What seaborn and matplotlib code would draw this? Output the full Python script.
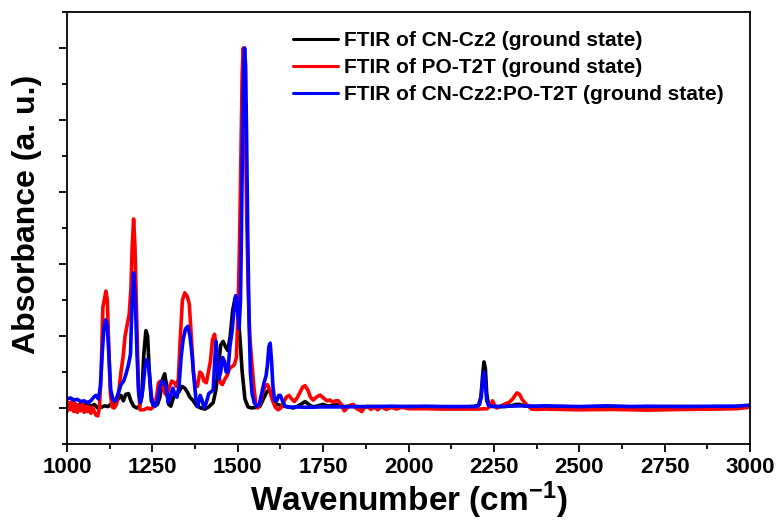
import numpy as np
import pandas as pd
import matplotlib
matplotlib.use("Agg")
import matplotlib.pyplot as plt
import seaborn as sns
from matplotlib.ticker import MultipleLocator

# ---- data ----
cz2_wn = [1000, 1010, 1020, 1030, 1040, 1050, 1060, 1070, 1080, 1090, 1100, 1110, 1120, 1130, 1140, 1150, 1158, 1165, 1172, 1180, 1187, 1195, 1205, 1212, 1219, 1225, 1231, 1236, 1241, 1247, 1255, 1265, 1272, 1280, 1286, 1292, 1298, 1304, 1312, 1320, 1328, 1336, 1345, 1352, 1360, 1370, 1380, 1392, 1404, 1415, 1428, 1436, 1443, 1450, 1457, 1464, 1471, 1478, 1485, 1492, 1499, 1506, 1513, 1521, 1530, 1540, 1555, 1565, 1575, 1585, 1593, 1600, 1610, 1622, 1635, 1650, 1662, 1675, 1688, 1697, 1708, 1720, 1735, 1750, 1765, 1780, 1795, 1810, 1830, 1860, 1900, 1950, 2000, 2050, 2100, 2150, 2190, 2205, 2212, 2217, 2221, 2225, 2229, 2234, 2245, 2280, 2300, 2315, 2325, 2340, 2360, 2400, 2500, 2600, 2700, 2800, 2900, 2960, 3000]
cz2_abs = [0.012, 0.008, 0.015, 0.005, 0.012, 0.008, 0.014, 0.004, 0.01, 0.0, 0.002, 0.006, 0.004, 0.012, 0.01, 0.025, 0.035, 0.02, 0.038, 0.04, 0.02, 0.005, 0.0, 0.005, 0.03, 0.15, 0.215, 0.2, 0.1, 0.02, 0.005, 0.01, 0.03, 0.08, 0.095, 0.06, 0.01, 0.005, 0.03, 0.04, 0.045, 0.06, 0.055, 0.045, 0.03, 0.02, 0.005, 0.0, -0.003, 0.003, 0.015, 0.05, 0.11, 0.175, 0.185, 0.17, 0.16, 0.2, 0.27, 0.305, 0.28, 0.2, 0.1, 0.025, 0.003, 0.0, 0.002, 0.005, 0.025, 0.045, 0.05, 0.03, 0.012, 0.008, 0.005, 0.003, 0.0, 0.005, 0.012, 0.018, 0.01, 0.003, 0.006, 0.01, 0.005, 0.008, 0.01, 0.004, 0.005, 0.003, 0.004, 0.002, 0.004, 0.003, 0.003, 0.003, 0.004, 0.008, 0.03, 0.09, 0.128, 0.11, 0.04, 0.01, 0.004, 0.004, 0.006, 0.01, 0.01, 0.006, 0.004, 0.004, 0.003, 0.004, 0.003, 0.004, 0.003, 0.004, 0.006]

t2t_wn = [1000, 1005, 1010, 1015, 1020, 1025, 1030, 1035, 1040, 1045, 1050, 1055, 1060, 1065, 1070, 1075, 1080, 1085, 1090, 1095, 1100, 1105, 1109, 1114, 1118, 1122, 1127, 1132, 1138, 1145, 1152, 1158, 1164, 1170, 1176, 1182, 1187, 1191, 1195, 1199, 1204, 1209, 1214, 1225, 1235, 1245, 1255, 1262, 1268, 1274, 1280, 1287, 1293, 1300, 1307, 1314, 1320, 1326, 1332, 1338, 1345, 1352, 1358, 1364, 1370, 1376, 1382, 1389, 1395, 1401, 1408, 1414, 1420, 1426, 1432, 1437, 1443, 1449, 1455, 1462, 1469, 1476, 1483, 1490, 1496, 1501, 1506, 1510, 1513, 1516, 1519, 1522, 1526, 1530, 1535, 1541, 1547, 1553, 1558, 1565, 1572, 1580, 1587, 1594, 1602, 1610, 1618, 1626, 1634, 1642, 1650, 1658, 1666, 1675, 1683, 1690, 1697, 1705, 1713, 1721, 1730, 1741, 1751, 1761, 1770, 1778, 1786, 1794, 1803, 1812, 1820, 1830, 1838, 1846, 1855, 1863, 1872, 1880, 1890, 1900, 1910, 1920, 1935, 1950, 1965, 1980, 2000, 2050, 2100, 2150, 2200, 2230, 2240, 2246, 2251, 2258, 2268, 2280, 2295, 2305, 2312, 2318, 2325, 2332, 2340, 2350, 2360, 2375, 2400, 2500, 2600, 2700, 2800, 2900, 2960, 3000]
t2t_abs = [-0.01, 0.015, -0.005, 0.02, -0.01, 0.012, -0.012, 0.008, -0.008, 0.01, -0.012, 0.005, -0.01, 0.003, -0.015, 0.002, -0.01, -0.02, -0.022, 0.0, 0.1, 0.28, 0.3, 0.325, 0.3, 0.18, 0.04, 0.003, 0.0, 0.01, 0.05, 0.1, 0.14, 0.2, 0.23, 0.26, 0.33, 0.45, 0.525, 0.45, 0.25, 0.06, -0.005, -0.005, 0.0, -0.003, 0.005, 0.03, 0.07, 0.075, 0.06, 0.04, 0.035, 0.06, 0.075, 0.07, 0.06, 0.08, 0.2, 0.3, 0.32, 0.31, 0.29, 0.2, 0.1, 0.06, 0.06, 0.1, 0.095, 0.075, 0.07, 0.1, 0.13, 0.19, 0.205, 0.17, 0.1, 0.07, 0.065, 0.08, 0.09, 0.11, 0.115, 0.12, 0.14, 0.27, 0.5, 0.75, 0.93, 1.0, 0.95, 0.8, 0.55, 0.35, 0.2, 0.13, 0.06, 0.01, 0.0, 0.01, 0.04, 0.06, 0.065, 0.05, 0.02, 0.002, -0.005, 0.0, 0.015, 0.03, 0.035, 0.025, 0.018, 0.03, 0.045, 0.058, 0.062, 0.05, 0.03, 0.022, 0.03, 0.036, 0.028, 0.02, 0.022, 0.016, 0.02, 0.02, 0.01, -0.008, 0.0, 0.008, 0.01, 0.0, -0.005, -0.01, 0.002, 0.005, -0.004, 0.003, -0.005, 0.004, -0.004, 0.002, -0.003, 0.002, -0.002, -0.002, -0.003, -0.003, -0.003, -0.002, 0.005, 0.02, 0.01, 0.0, 0.004, 0.01, 0.016, 0.025, 0.035, 0.042, 0.038, 0.025, 0.015, 0.006, -0.003, -0.004, -0.003, -0.005, -0.004, -0.006, -0.004, -0.003, -0.002, 0.002]

mix_wn = [1000, 1010, 1020, 1030, 1040, 1050, 1060, 1070, 1078, 1085, 1092, 1098, 1103, 1108, 1113, 1118, 1123, 1128, 1135, 1142, 1150, 1158, 1166, 1173, 1180, 1186, 1190, 1195, 1200, 1205, 1210, 1215, 1222, 1228, 1234, 1240, 1246, 1252, 1258, 1265, 1272, 1278, 1284, 1290, 1296, 1302, 1310, 1317, 1322, 1328, 1334, 1340, 1347, 1354, 1360, 1366, 1372, 1378, 1383, 1390, 1396, 1401, 1408, 1415, 1422, 1428, 1432, 1436, 1440, 1444, 1450, 1456, 1461, 1466, 1471, 1477, 1483, 1489, 1494, 1499, 1504, 1508, 1511, 1514, 1517, 1520, 1523, 1526, 1529, 1533, 1537, 1542, 1548, 1555, 1563, 1570, 1577, 1583, 1587, 1591, 1595, 1599, 1603, 1608, 1614, 1620, 1625, 1631, 1638, 1650, 1670, 1700, 1750, 1800, 1850, 1900, 1950, 2000, 2050, 2100, 2150, 2200, 2208, 2213, 2217, 2221, 2225, 2229, 2235, 2260, 2300, 2330, 2370, 2400, 2500, 2580, 2650, 2700, 2800, 2900, 2960, 3000]
mix_abs = [0.025, 0.028, 0.022, 0.024, 0.018, 0.02, 0.015, 0.02, 0.03, 0.035, 0.025, 0.06, 0.15, 0.22, 0.245, 0.23, 0.14, 0.05, 0.022, 0.02, 0.04, 0.065, 0.075, 0.095, 0.12, 0.15, 0.28, 0.375, 0.3, 0.15, 0.04, 0.015, 0.05, 0.11, 0.135, 0.11, 0.04, 0.008, 0.005, 0.02, 0.06, 0.075, 0.07, 0.06, 0.015, 0.03, 0.055, 0.035, 0.03, 0.06, 0.14, 0.19, 0.22, 0.227, 0.2, 0.15, 0.08, 0.02, 0.005, 0.035, 0.02, 0.0, 0.015, 0.04, 0.045, 0.05, 0.12, 0.185, 0.14, 0.08, 0.1, 0.14, 0.13, 0.1, 0.1, 0.17, 0.21, 0.27, 0.312, 0.28, 0.22, 0.3, 0.5, 0.75, 0.93, 1.0, 0.95, 0.75, 0.5, 0.25, 0.1, 0.04, 0.015, 0.005, 0.01, 0.04, 0.07, 0.09, 0.12, 0.17, 0.18, 0.13, 0.06, 0.02, 0.02, 0.035, 0.035, 0.02, 0.005, 0.002, 0.003, 0.002, 0.003, 0.003, 0.004, 0.004, 0.005, 0.004, 0.005, 0.004, 0.004, 0.004, 0.01, 0.03, 0.075, 0.1, 0.07, 0.02, 0.006, 0.004, 0.005, 0.006, 0.005, 0.006, 0.004, 0.006, 0.004, 0.005, 0.004, 0.005, 0.005, 0.008]

labels = ["FTIR of CN-Cz2 (ground state)",
          "FTIR of PO-T2T (ground state)",
          "FTIR of CN-Cz2:PO-T2T (ground state)"]
colors = ["#000000", "#ff0000", "#0000ff"]
x_ticks = [1000, 1250, 1500, 1750, 2000, 2250, 2500, 2750, 3000]

# ---- style ----
sns.set_style("ticks")
plt.rcParams['font.family'] = ['Liberation Sans', 'DejaVu Sans']
plt.rcParams['font.weight'] = 'bold'
plt.rcParams['text.color'] = 'black'
plt.rcParams['axes.labelcolor'] = 'black'
plt.rcParams['axes.edgecolor'] = 'black'
plt.rcParams['xtick.color'] = 'black'
plt.rcParams['ytick.color'] = 'black'
plt.rcParams['mathtext.fontset'] = 'custom'
plt.rcParams['mathtext.rm'] = 'Liberation Sans:bold'
plt.rcParams['mathtext.bf'] = 'Liberation Sans:bold'
plt.rcParams['mathtext.it'] = 'Liberation Sans:bold'

df = pd.concat([
    pd.DataFrame({"wn": cz2_wn, "abs": cz2_abs, "series": labels[0]}),
    pd.DataFrame({"wn": t2t_wn, "abs": t2t_abs, "series": labels[1]}),
    pd.DataFrame({"wn": mix_wn, "abs": mix_abs, "series": labels[2]}),
], ignore_index=True)

fig = plt.figure(figsize=(7.79, 5.26), dpi=100)
ax = fig.add_axes([67/779, 82/526, 683/779, 432/526])

sns.lineplot(data=df, x="wn", y="abs", hue="series", hue_order=labels,
             palette=dict(zip(labels, colors)), linewidth=2.6, sort=False,
             estimator=None, ax=ax)

ax.set_xlim(1000, 3000)
ax.set_ylim(-0.1, 1.1)
ax.set_xticks(x_ticks)
ax.xaxis.set_minor_locator(MultipleLocator(125))
ax.yaxis.set_major_locator(MultipleLocator(0.2))
ax.yaxis.set_minor_locator(MultipleLocator(0.1))
ax.set_yticklabels([])
ax.tick_params(axis='both', which='major', direction='out', length=6, width=1.3,
               labelsize=16, top=False, right=False, colors='black')
ax.tick_params(axis='both', which='minor', direction='out', length=3.5, width=1.3,
               top=False, right=False, colors='black')
for lab in ax.get_xticklabels():
    lab.set_fontweight('bold')
for s in ax.spines.values():
    s.set_visible(True)
    s.set_linewidth(1.3)
    s.set_color('black')

ax.set_xlabel(r"Wavenumber (cm$^{-1}$)", fontsize=24, fontweight='bold', labelpad=1)
ax.set_ylabel("Absorbance (a. u.)", fontsize=23, fontweight='bold')
ax.yaxis.set_label_coords(-0.036, 0.532)

leg = ax.legend(loc='upper left', bbox_to_anchor=(0.318, 0.975), frameon=False,
                fontsize=15, handlelength=2.2, handletextpad=0.29,
                labelspacing=0.38, borderaxespad=0)
for t in leg.get_texts():
    t.set_fontweight('bold')
    t.set_color('black')
for l in leg.get_lines():
    l.set_linewidth(2.2)

fig.savefig("out.png", dpi=100)
